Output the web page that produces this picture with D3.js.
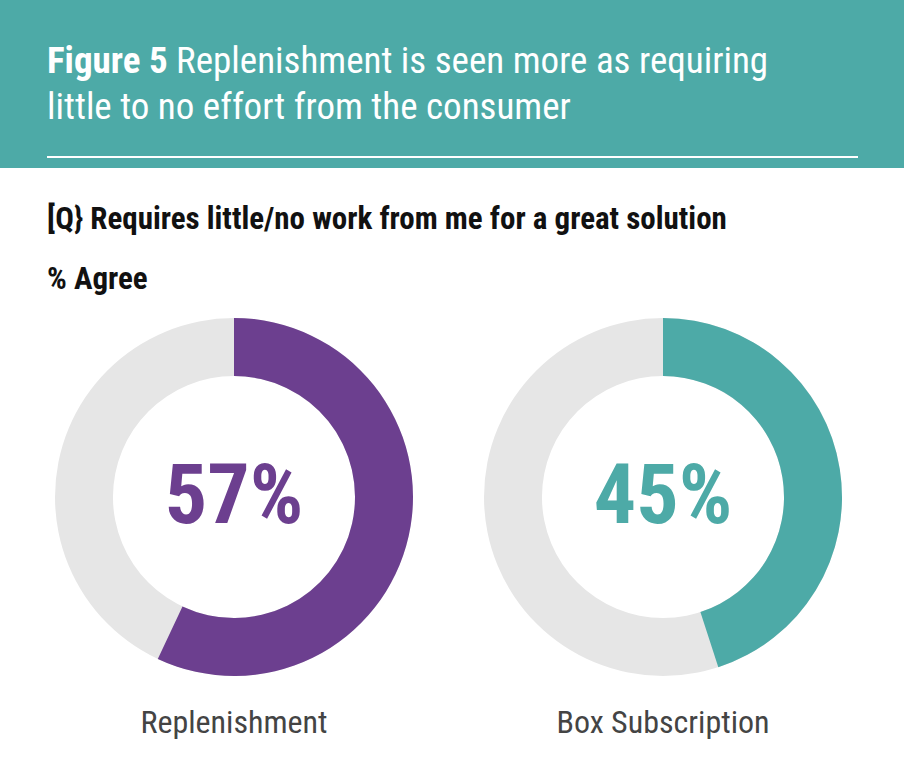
<!DOCTYPE html>
<html><head><meta charset="utf-8">
<script src="https://cdn.jsdelivr.net/npm/d3@7"></script>
<style>body{margin:0;background:#fff}text{font-family:"Liberation Sans Narrow","Roboto Condensed","Arial Narrow",sans-serif}</style>
</head><body><svg id="c" width="904" height="772"></svg>
<script>
const categories=["Replenishment","Box Subscription"];
const values=[57,45];
const colors=["#6C3F8F","#4DAAA7"];
const svg=d3.select("#c");
svg.append("rect").attr("width",904).attr("height",168).attr("fill","#4DAAA7");
svg.append("line").attr("x1",47).attr("x2",858).attr("y1",157).attr("y2",157).attr("stroke","#fff").attr("stroke-width",2);
const t1=svg.append("text").attr("x",47).attr("y",73).attr("fill","#fff").attr("font-size",37);
t1.append("tspan").attr("font-weight","bold").text("Figure 5");
t1.append("tspan").text(" Replenishment is seen more as requiring");
svg.append("text").attr("x",47).attr("y",119).attr("fill","#fff").attr("font-size",37).text("little to no effort from the consumer");
svg.append("text").attr("x",47).attr("y",229).attr("font-size",31).attr("font-weight","bold").attr("fill","#111").text("[Q} Requires little/no work from me for a great solution");
svg.append("text").attr("x",47).attr("y",289).attr("font-size",31).attr("font-weight","bold").attr("fill","#111").text("% Agree");
const x=d3.scalePoint().domain(categories).range([234,663]);
const arc=d3.arc().innerRadius(121).outerRadius(179);
const sc=d3.scaleLinear().domain([0,100]).range([0,2*Math.PI]);
categories.forEach((c,i)=>{
  const g=svg.append("g").attr("transform",`translate(${x(c)},497)`);
  g.append("path").attr("d",arc({startAngle:0,endAngle:2*Math.PI})).attr("fill","#E6E6E6");
  g.append("path").attr("d",arc({startAngle:0,endAngle:sc(values[i])})).attr("fill",colors[i]);
  g.append("text").attr("text-anchor","middle").attr("y",26).attr("font-size",84).attr("font-weight","bold").attr("fill",colors[i]).text(values[i]+"%");
  g.append("text").attr("text-anchor","middle").attr("y",236).attr("font-size",32).attr("fill","#444").text(c);
});
</script></body></html>
